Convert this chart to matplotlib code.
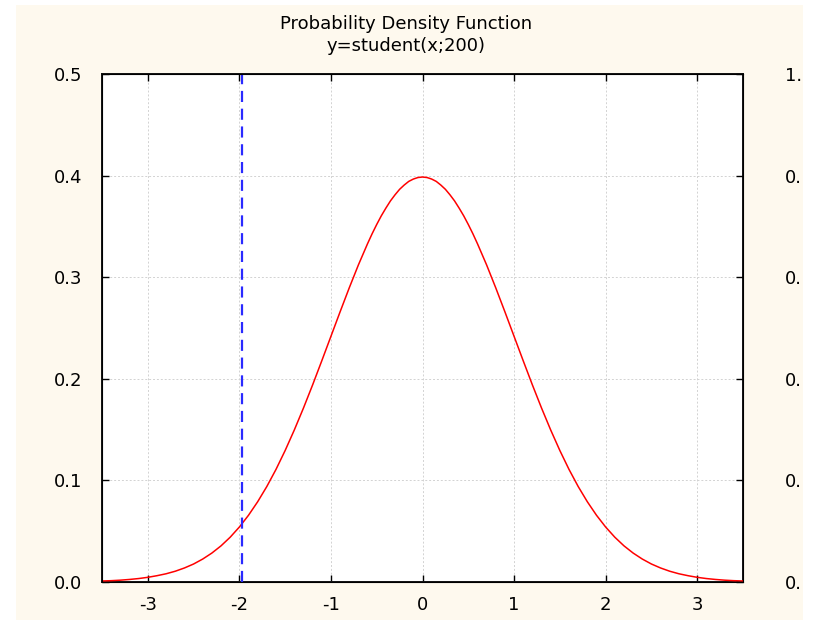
import numpy as np
import matplotlib
matplotlib.use('Agg')
import matplotlib.pyplot as plt
from matplotlib.patches import Rectangle

# values
x_vals = [-3.5, -3.4, -3.3, -3.2, -3.1, -3.0, -2.9, -2.8, -2.7, -2.6,
          -2.5, -2.4, -2.3, -2.2, -2.1, -2.0, -1.9, -1.8, -1.7, -1.6,
          -1.5, -1.4, -1.3, -1.2, -1.1, -1.0, -0.9, -0.8, -0.7, -0.6,
          -0.55, -0.5, -0.45, -0.4, -0.35, -0.3, -0.25, -0.2, -0.15, -0.1, -0.05,
          0.0, 0.05, 0.1, 0.15, 0.2, 0.25, 0.3, 0.35, 0.4, 0.45, 0.5, 0.55,
          0.6, 0.7, 0.8, 0.9, 1.0, 1.1, 1.2, 1.3, 1.4,
          1.5, 1.6, 1.7, 1.8, 1.9, 2.0, 2.1, 2.2, 2.3, 2.4,
          2.5, 2.6, 2.7, 2.8, 2.9, 3.0, 3.1, 3.2, 3.3, 3.4, 3.5]
pdf_vals = [0.0010, 0.0013, 0.0018, 0.0025, 0.0034, 0.0046, 0.0062, 0.0081, 0.0106, 0.0138,
            0.0177, 0.0226, 0.0285, 0.0356, 0.0441, 0.0541, 0.0657, 0.0790, 0.0940, 0.1108,
            0.1294, 0.1496, 0.1712, 0.1940, 0.2177, 0.2418, 0.2659, 0.2895, 0.3121, 0.3330,
            0.3428, 0.3519, 0.3604, 0.3680, 0.3751, 0.3811, 0.3865, 0.3907, 0.3943, 0.3966, 0.3981,
            0.3986, 0.3981, 0.3966, 0.3943, 0.3907, 0.3865, 0.3811, 0.3751, 0.3680, 0.3604, 0.3519, 0.3428,
            0.3330, 0.3121, 0.2895, 0.2659, 0.2418, 0.2177, 0.1940, 0.1712, 0.1496,
            0.1294, 0.1108, 0.0940, 0.0790, 0.0657, 0.0541, 0.0441, 0.0356, 0.0285, 0.0226,
            0.0177, 0.0138, 0.0106, 0.0081, 0.0062, 0.0046, 0.0034, 0.0025, 0.0018, 0.0013, 0.0010]
crit_x = -1.972

x_ticks = [-3, -2, -1, 0, 1, 2, 3]
y_ticks = [0.0, 0.1, 0.2, 0.3, 0.4, 0.5]
y2_ticks = [0.0, 0.2, 0.4, 0.6, 0.8, 1.0]
y2_labels = ['0.', '0.', '0.', '0.', '0.', '1.']  # only this much shows in the reference
title_lines = ['Probability Density Function', 'y=student(x;200)']

cream = '#FEF9EE'
plt.rcParams['font.family'] = ['DejaVu Sans']

fig = plt.figure(figsize=(8.13, 6.2), dpi=100)
fig.patch.set_facecolor('white')
fig.patches.append(Rectangle((16/813, 0), (803-16)/813, (620-5)/620,
                             transform=fig.transFigure, facecolor=cream,
                             edgecolor='none', zorder=-10))

ax = fig.add_axes([102/813, 1-582/620, (743-102)/813, 508/620])
ax.set_facecolor('white')
ax.plot(x_vals, pdf_vals, color='red', lw=1.1, zorder=3)
ax.plot([crit_x, crit_x], [0, 0.5], color='#2a2aff', lw=1.6,
        dashes=(5, 3), zorder=4)

ax.set_xlim(-3.5, 3.5)
ax.set_ylim(0, 0.5)
ax.set_xticks(x_ticks)
ax.set_xticklabels([str(v) for v in x_ticks])
ax.set_yticks(y_ticks)
ax.set_yticklabels(['%.1f' % v for v in y_ticks])
ax.grid(True, color='#d2d2d2', lw=0.7, linestyle=(0, (2, 2)))
ax.tick_params(direction='in', length=5, width=1, labelsize=13, top=True,
               colors='black')
ax.tick_params(axis='x', pad=10)
ax.tick_params(axis='y', pad=14)
for s in ax.spines.values():
    s.set_linewidth(1.4)
    s.set_color('#111111')

ax2 = ax.twinx()
ax2.set_ylim(0, 1)
ax2.set_yticks(y2_ticks)
ax2.set_yticklabels(y2_labels)
ax2.tick_params(direction='in', length=5, width=1, labelsize=13, pad=30)
for t in ax2.get_yticklabels():
    t.set_horizontalalignment('left')

fig.text(0.5, 1-24/620, title_lines[0], ha='center', va='center', fontsize=13)
fig.text(0.5, 1-46/620, title_lines[1], ha='center', va='center', fontsize=13)

fig.savefig('out.png', dpi=100, facecolor='white')
